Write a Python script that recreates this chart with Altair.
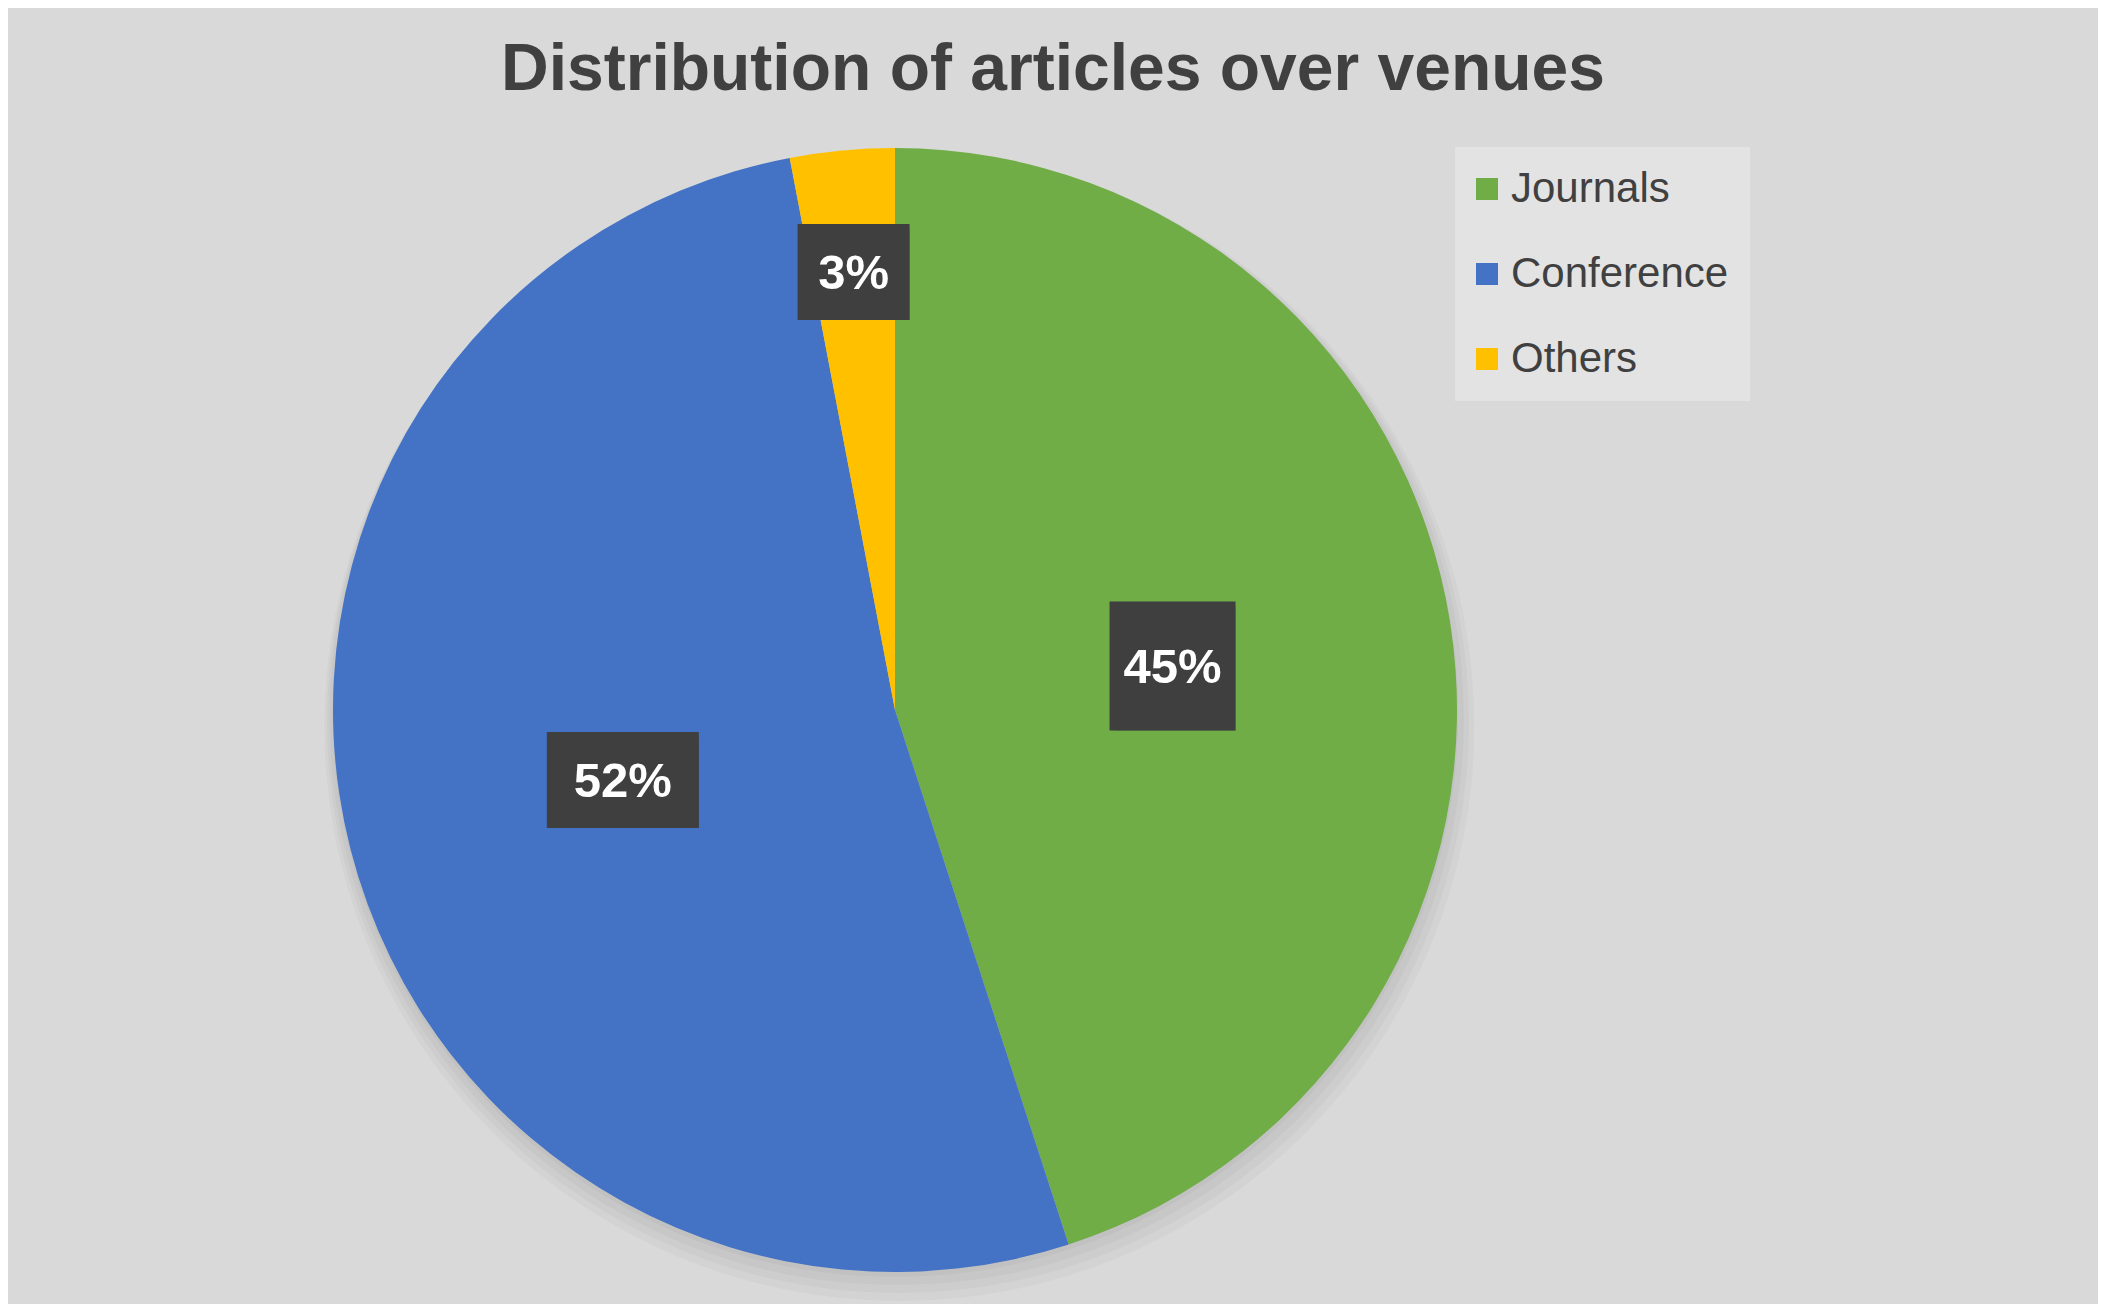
import altair as alt
import pandas as pd

# ---- data ----
categories = ["Journals", "Conference", "Others"]
shares = [45, 52, 3]
slice_order = [0, 1, 2]
colors = ["#70AD47", "#4472C4", "#FFC000"]
TITLE = "Distribution of articles over venues"

# ---- layout / styles ----
W, H = 2090, 1296
CX, CY, R = 887, 702, 562
BOX = {"Journals": (126, 129), "Conference": (152, 96), "Others": (112, 96)}
FONT = "Liberation Sans"

df = pd.DataFrame({"category": categories, "share": shares, "order": slice_order})


def box_expr(idx):
    e = "0"
    for k, v in BOX.items():
        e = f"(datum.category == '{k}' ? {v[idx]} : {e})"
    return e


base = (
    alt.Chart(df)
    .transform_joinaggregate(total="sum(share)")
    .transform_window(cum="sum(share)", sort=[alt.SortField("order")], frame=[None, 0])
    .transform_calculate(
        mid="(datum.cum - datum.share/2) / datum.total * 2 * PI",
        frac="datum.share / datum.total",
        label="format(datum.share / datum.total, '.0%')",
    )
    .transform_calculate(r="datum.frac < 0.05 ? 440 : 281")
    .transform_calculate(
        cx=f"{CX} + datum.r * sin(datum.mid)",
        cy=f"{CY} - datum.r * cos(datum.mid)",
        bw=box_expr(0),
        bh=box_expr(1),
    )
    .transform_calculate(
        bx1="datum.cx - datum.bw/2",
        bx2="datum.cx + datum.bw/2",
        by1="datum.cy - datum.bh/2",
        by2="datum.cy + datum.bh/2",
    )
)

# pie shadow (soft)
one = alt.Chart(df).transform_aggregate(n="count()")
shadows = [
    one.mark_arc(theta=0, theta2=6.2832, outerRadius=R + k, color="black", opacity=0.028).encode(
        x=alt.value(CX + k / 3), y=alt.value(CY + k + 3)
    )
    for k in (1, 5, 9, 13)
]

pie = alt.Chart(df).mark_arc(outerRadius=R).encode(
    theta=alt.Theta("share:Q", stack=True),
    order=alt.Order("order:Q"),
    color=alt.Color(
        "category:N",
        scale=alt.Scale(domain=categories, range=colors),
        legend=alt.Legend(
            title=None,
            orient="none",
            legendX=1447,
            legendY=139,
            fillColor="#E3E3E3",
            padding=21,
            symbolType="square",
            symbolSize=484,
            symbolStrokeWidth=0,
            symbolOpacity=1,
            symbolOffset=-10,
            labelFontSize=42,
            labelFont=FONT,
            labelColor="#404040",
            labelLimit=500,
            rowPadding=43,
            labelOffset=3,
        ),
    ),
    x=alt.value(CX),
    y=alt.value(CY),
)

box_shadow1 = base.mark_rect(color="black", opacity=0.18).encode(
    x=alt.X("bx1:Q", scale=None, axis=None), x2="bx2:Q",
    y=alt.Y("by1:Q", scale=None, axis=None), y2="by2:Q",
    xOffset=alt.value(4), yOffset=alt.value(5),
)
box_shadow2 = base.mark_rect(color="black", opacity=0.1).encode(
    x=alt.X("bx1:Q", scale=None, axis=None), x2="bx2:Q",
    y=alt.Y("by1:Q", scale=None, axis=None), y2="by2:Q",
    xOffset=alt.value(7), yOffset=alt.value(8),
)
boxes = base.mark_rect(color="#3F3F3F").encode(
    x=alt.X("bx1:Q", scale=None, axis=None), x2="bx2:Q",
    y=alt.Y("by1:Q", scale=None, axis=None), y2="by2:Q",
)
labels = base.mark_text(
    fontSize=49, fontWeight="bold", color="white", font=FONT, align="center", baseline="middle", dy=2
).encode(
    x=alt.X("cx:Q", scale=None, axis=None),
    y=alt.Y("cy:Q", scale=None, axis=None),
    text="label:N",
)

title = one.mark_text(
    text=TITLE, fontSize=66, fontWeight="bold", color="#404040", font=FONT, align="center", baseline="alphabetic"
).encode(x=alt.value(1045), y=alt.value(82))

chart = (
    alt.layer(*shadows, pie, box_shadow2, box_shadow1, boxes, labels, title)
    .properties(width=W, height=H, autosize=alt.AutoSizeParams(type="none"), padding=0, background="#D9D9D9")
    .configure_view(stroke=None)
)

chart.save("out.html", embed_options={"renderer": "svg", "actions": False})
